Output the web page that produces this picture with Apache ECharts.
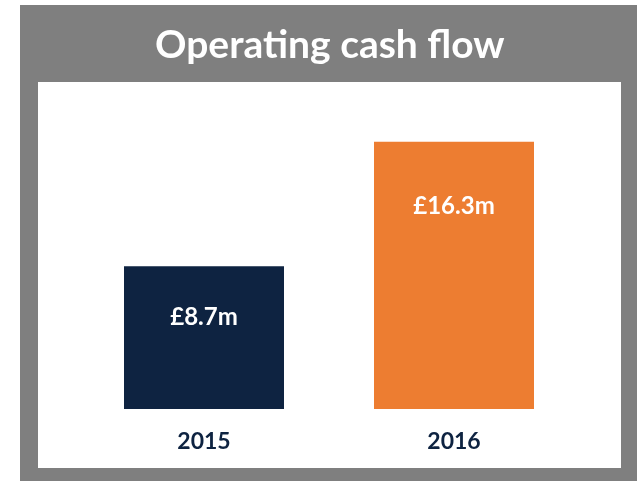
<!DOCTYPE html>
<html>
<head>
<meta charset="utf-8">
<script src="https://cdn.jsdelivr.net/npm/echarts@6/dist/echarts.min.js"></script>
<style>
  html, body { margin: 0; padding: 0; background: #fff; }
  #chart { width: 643px; height: 481px; }
</style>
</head>
<body>
<div id="chart"></div>
<script>
// data
var years = ['2015', '2016'];
var cashFlow = [8.7, 16.3];
var valueLabels = ['£8.7m', '£16.3m'];
var barColors = ['#0E2341', '#ED7D31'];
var labelGap = [39, 53];

var chart = echarts.init(document.getElementById('chart'));

var option = {
	backgroundColor: '#fff',
	animation: false,
	graphic: [
		{ type: 'rect', z: -10, shape: { x: 20, y: 5, width: 617, height: 476 }, style: { fill: '#7F7F7F' } },
		{ type: 'rect', z: -9, shape: { x: 38, y: 82, width: 583, height: 386 }, style: { fill: '#fff' } }
	],
	title: {
		text: 'Operating cash flow',
		left: 150,
		top: 21,
		textStyle: {
			color: '#fff',
			fontFamily: 'Lato',
			fontWeight: 'bold',
			fontSize: 39
		}
	},
	grid: { left: 79, right: 64, top: 81, bottom: 72 },
	xAxis: {
		type: 'category',
		data: years,
		axisLine: { show: false },
		axisTick: { show: false },
		axisLabel: {
			color: '#0E2341',
			fontFamily: 'Lato',
			fontWeight: 'bold',
			fontSize: 23,
			margin: 21
		}
	},
	yAxis: {
		type: 'value',
		min: 0,
		max: 20,
		show: false,
		splitLine: { show: false }
	},
	series: [{
		type: 'bar',
		barWidth: '64%',
		data: cashFlow.map(function(v, i) {
			return {
				value: v,
				itemStyle: { color: barColors[i] },
				label: {
					show: true,
					position: 'insideTop',
					distance: labelGap[i],
					formatter: valueLabels[i],
					color: '#fff',
					fontFamily: 'Lato',
					fontWeight: 'bold',
					fontSize: 24
				}
			};
		})
	}]
};

chart.setOption(option);
</script>
</body>
</html>
